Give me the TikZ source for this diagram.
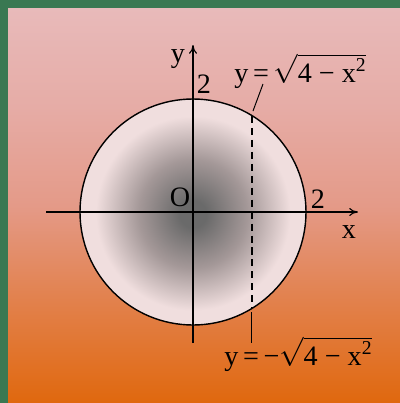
\documentclass[tikz,border=0pt]{standalone}
\usepackage{fontspec}
\setmainfont{Liberation Serif}
\usetikzlibrary{arrows.meta}
\definecolor{framegreen}{HTML}{3A7852}
\definecolor{bgtop}{HTML}{E8BABA}
\definecolor{bghigh}{HTML}{E6ACA6}
\definecolor{bgmid}{HTML}{E49A88}
\definecolor{bglow}{HTML}{E2804A}
\definecolor{bgbot}{HTML}{E0680E}
\definecolor{diskedge}{HTML}{F0DEDE}
\definecolor{diskmid}{HTML}{A49898}
\definecolor{diskcore}{HTML}{6A6A6A}
\pgfdeclareverticalshading{bgshade}{100bp}{%
  color(0bp)=(bgbot); color(25bp)=(bgbot); color(37.5bp)=(bglow); color(50bp)=(bgmid);
  color(62.5bp)=(bghigh); color(75bp)=(bgtop); color(100bp)=(bgtop)}
\pgfdeclareradialshading{diskshade}{\pgfpoint{0bp}{-0.5bp}}{%
  color(0bp)=(diskcore); color(3bp)=(diskcore); color(12bp)=(diskmid); color(21.5bp)=(diskedge); color(50bp)=(diskedge)}
\newcommand{\half}{\hbox{4 − x\textsuperscript{2}}}
\begin{document}
\begin{tikzpicture}[x=0.025cm, y=-0.025cm,
    lbl/.style={font=\fontsize{20}{24}\selectfont, inner sep=0pt},
    axis/.style={-{To[length=2.2mm,width=2mm]}, line width=0.8pt},
    guide/.style={line width=0.7pt}
]
\useasboundingbox (0,0) rectangle (400,403);
\fill[framegreen] (0,0) rectangle (400,403);
\shade[shading=bgshade] (8,8) rectangle (400,403);

\coordinate (O) at (193,212);
\shade[shading=diskshade] (O) circle (113);
\draw[line width=1pt] (O) circle (113);

\draw[line width=1.1pt, dash pattern=on 5pt off 3.5pt] (252,116) -- (252,308);

\draw[axis] (46,212) -- (358,212);
\draw[axis] (193,343) -- (193,45);

\node[lbl, anchor=base] (ylbl) at (178,62) {y};
\node[lbl, anchor=base] (ytick) at (204,93) {2};
\node[lbl, anchor=base] (olbl) at (180,206) {O};
\node[lbl, anchor=base] (xtick) at (318,208) {2};
\node[lbl, anchor=base] (xlbl) at (349,238) {x};

\node[lbl, anchor=base west] (upper) at (234,82) {y\,=\,$\sqrt{\half}$};
\node[lbl, anchor=base west] (lower) at (224,365) {y\,=\,−$\sqrt{\half}$};

\coordinate (uptop) at (263,84);
\coordinate (upend) at (253,111);
\coordinate (lotop) at (251,312);
\coordinate (loend) at (251,343);
\draw[guide] (uptop) -- (upend);
\draw[guide] (lotop) -- (loend);
\end{tikzpicture}
\end{document}
